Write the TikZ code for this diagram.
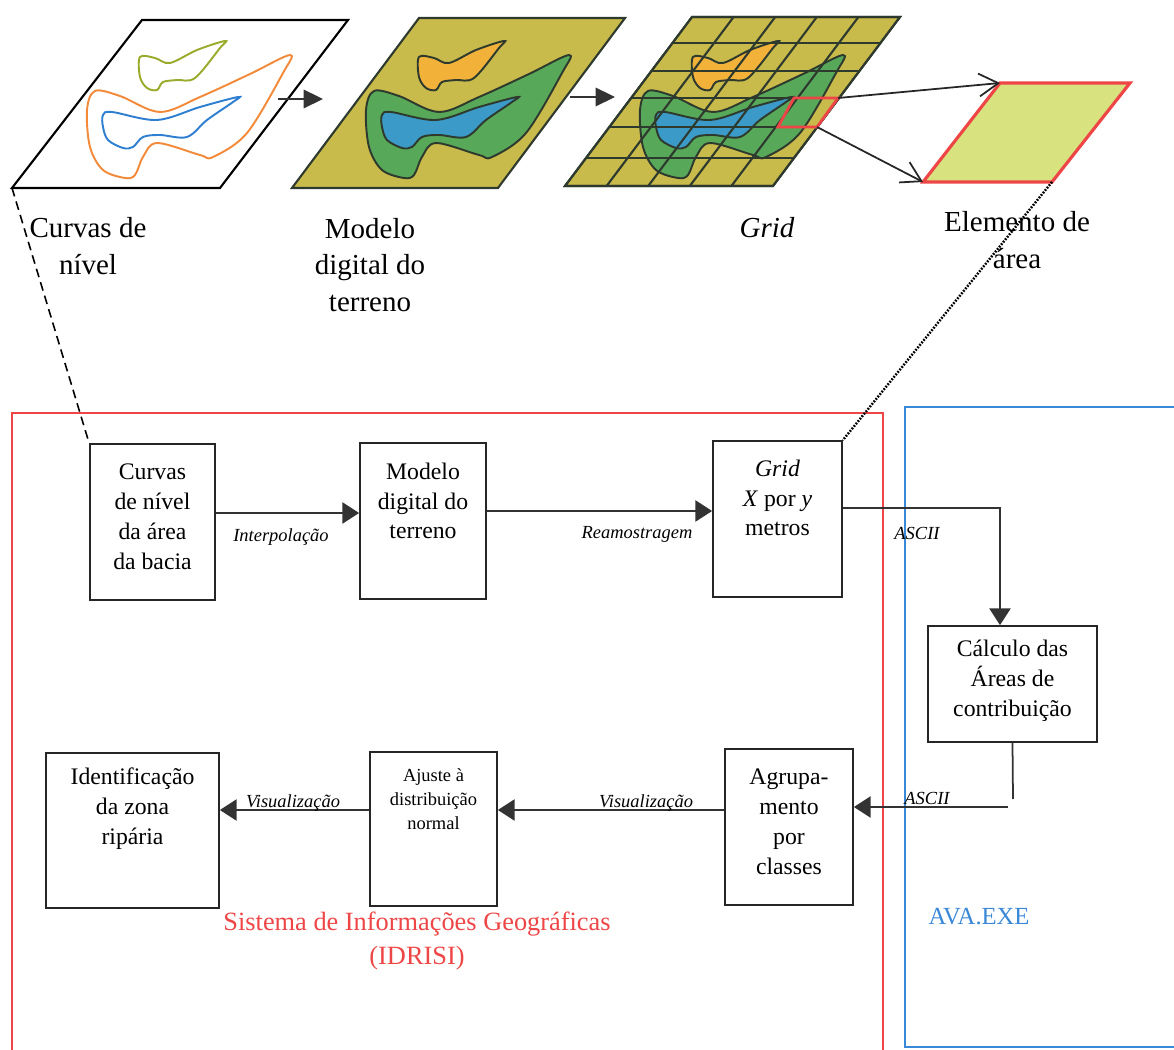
\documentclass[tikz,border=0pt]{standalone}
\usepackage{fontspec}
\setmainfont{Liberation Serif}
\usepackage{tikz}
\usetikzlibrary{arrows.meta,calc}

\definecolor{terreno}{HTML}{C9BA4C}
\definecolor{verde}{HTML}{58A85A}
\definecolor{azul}{HTML}{3C9AC8}
\definecolor{laranja}{HTML}{F2B23A}
\definecolor{contorno}{HTML}{2E3A2E}
\definecolor{curvaOliva}{HTML}{9AAA2A}
\definecolor{curvaLaranja}{HTML}{F28A3A}
\definecolor{curvaAzul}{HTML}{2F7FD0}
\definecolor{elemento}{HTML}{D8E27E}
\definecolor{vermelho}{HTML}{EE4646}
\definecolor{azulAva}{HTML}{3A88D8}

% the three level curves (drawn in the frame of the first sheet)
\newcommand{\manchaExt}{plot[smooth cycle, tension=0.55] coordinates {(95,91) (120,96) (160,112) (200,97) (250,74) (290,55) (283,73) (247,133) (213,157) (200,155) (157,143) (143,157) (135,175) (125,178) (103,170) (90,147) (87,110)}}
\newcommand{\manchaInt}{plot[smooth cycle, tension=0.55] coordinates {(103,115) (112,112) (157,120) (200,107) (238,97) (233,102) (207,120) (187,137) (160,135) (143,137) (133,147) (123,148) (108,140) (103,127)}}
\newcommand{\manchaTopo}{plot[smooth cycle, tension=0.55] coordinates {(140,57) (155,58) (170,63) (197,50) (225,41) (220,48) (195,78) (177,80) (163,82) (157,90) (147,88) (140,77)}}

\tikzset{
    caixa/.style={draw=black!85, line width=1pt},
    texto/.style={font=\fontsize{13.5}{17}\selectfont, align=center, inner sep=0pt},
    rotulo/.style={font=\fontsize{16.5}{21}\selectfont, align=center, inner sep=0pt},
    acao/.style={font=\fontsize{10.5}{12}\selectfont\itshape, inner sep=0pt},
    seta/.style={draw=black!80, line width=1pt, -{Triangle[length=9.5pt,width=12pt]}},
    setaTopo/.style={draw=black!80, line width=1pt, -{Triangle[length=11pt,width=10.5pt]}},
    setaAberta/.style={draw=black!85, line width=1pt, -{Straight Barb[length=11pt,width=13pt]}},
    folha/.style={fill=terreno, draw=contorno, line width=1.2pt},
    mancha/.style={draw=contorno, line width=1.1pt},
}

\begin{document}
\begin{tikzpicture}[x=0.02cm,y=-0.02cm]
    \useasboundingbox (0,0) rectangle (1174,1050);
    \clip (0,0) rectangle (1174,1050);

    % sheets: a b c d = bottom left, bottom right, top right, top left
    \coordinate (P1a) at (12,188);
    \coordinate (P1b) at (220,188);
    \coordinate (P1c) at (348,20);
    \coordinate (P1d) at (142,20);

    \coordinate (P2a) at (292,188);
    \coordinate (P2b) at (498,188);
    \coordinate (P2c) at (625,18);
    \coordinate (P2d) at (419,18);

    \coordinate (P3a) at (565,186);
    \coordinate (P3b) at (773,186);
    \coordinate (P3c) at (900,17);
    \coordinate (P3d) at (692,17);

    \coordinate (P4a) at (923,182);
    \coordinate (P4b) at (1052,182);
    \coordinate (P4c) at (1130,83);
    \coordinate (P4d) at (1000,83);

    \coordinate (C1) at (778,127);
    \coordinate (C2) at (817,127);
    \coordinate (C3) at (838,98);
    \coordinate (C4) at (794,98);

    \coordinate (S1) at (278,99);
    \coordinate (S2) at (323,99);
    \coordinate (S3) at (570,97);
    \coordinate (S4) at (615,97);

    % curvas de nivel
    \draw[line width=1.2pt] (P1a) -- (P1b) -- (P1c) -- (P1d) -- cycle;
    \draw[curvaLaranja, line width=1.1pt] \manchaExt;
    \draw[curvaAzul, line width=1.1pt] \manchaInt;
    \draw[curvaOliva, line width=1.1pt] \manchaTopo;

    % modelo digital
    \draw[folha] (P2a) -- (P2b) -- (P2c) -- (P2d) -- cycle;
    \begin{scope}[shift={(279,0)}]
        \filldraw[mancha, fill=verde] \manchaExt;
        \filldraw[mancha, fill=azul] \manchaInt;
        \filldraw[mancha, fill=laranja] \manchaTopo;
    \end{scope}

    % grid
    \draw[folha] (P3a) -- (P3b) -- (P3c) -- (P3d) -- cycle;
    \begin{scope}[shift={(553,0)}]
        \filldraw[mancha, fill=verde] \manchaExt;
        \filldraw[mancha, fill=azul] \manchaInt;
        \filldraw[mancha, fill=laranja] \manchaTopo;
    \end{scope}
    \foreach \y in {43,71,98,127,158}
        \draw[contorno, line width=1.2pt] ($(P3a)!{(186-\y)/169}!(P3d)$) -- ($(P3b)!{(186-\y)/169}!(P3c)$);
    \foreach \i in {1,...,4}
        \draw[contorno, line width=1.2pt] ($(P3a)!{\i/5}!(P3b)$) -- ($(P3d)!{\i/5}!(P3c)$);
    \draw[folha, fill=none] (P3a) -- (P3b) -- (P3c) -- (P3d) -- cycle;
    \draw[vermelho, line width=1.6pt] (C1) -- (C2) -- (C3) -- (C4) -- cycle;

    % elemento de area
    \draw[fill=elemento, draw=vermelho, line width=1.8pt] (P4a) -- (P4b) -- (P4c) -- (P4d) -- cycle;

    \draw[setaTopo] (S1) -- (S2);
    \draw[setaTopo] (S3) -- (S4);
    \draw[setaAberta] (C3) -- (P4d);
    \draw[setaAberta] (C2) -- (P4a);

    % frames
    \draw[vermelho, line width=1.4pt] (12,413) rectangle (883,1070);
    \draw[azulAva, line width=1.4pt] (905,407) rectangle (1190,1047);

    % boxes
    \node[caixa, minimum width=2.5cm, minimum height=3.12cm] (curvas) at (152.5,522) {};
    \node[caixa, minimum width=2.52cm, minimum height=3.12cm] (modelo) at (423,521) {};
    \node[caixa, minimum width=2.58cm, minimum height=3.12cm] (grid) at (777.5,519) {};
    \node[caixa, minimum width=3.38cm, minimum height=2.32cm] (calculo) at (1012.5,684) {};
    \node[caixa, minimum width=2.56cm, minimum height=3.12cm] (agrupamento) at (789,827) {};
    \node[caixa, minimum width=2.54cm, minimum height=3.08cm] (ajuste) at (433.5,829) {};
    \node[caixa, minimum width=3.46cm, minimum height=3.1cm] (identificacao) at (132.5,830.5) {};

    \coordinate (L1) at (0,513);
    \coordinate (L2) at (0,511);
    \coordinate (A1) at (1000,508);
    \coordinate (A2) at (1013,799);
    \coordinate (A3) at (1008,807);
    \coordinate (L3) at (0,810);

    \draw[seta] (curvas.east |- L1) -- (modelo.west |- L1);
    \draw[seta] (modelo.east |- L2) -- (grid.west |- L2);
    \draw[seta] (grid.east |- A1) -- (A1) -- (A1 |- calculo.north);
    \draw[draw=black!80, line width=1pt] (calculo.south) -- (A2);
    \draw[seta] (A3) -- (agrupamento.east |- A3);
    \draw[seta] (agrupamento.west |- L3) -- (ajuste.east |- L3);
    \draw[seta] (ajuste.west |- L3) -- (identificacao.east |- L3);

    \draw[dashed, dash pattern=on 5pt off 3pt, line width=0.9pt] (P1a) -- (curvas.north west);
    \draw[dash pattern=on 1pt off 0.8pt, line width=1.4pt] (P4b) -- (grid.north east);

%labels
    \node[rotulo] (lbCurvas) at (88,246) {Curvas de\\nível};
    \node[rotulo] (lbModelo) at (370,265) {Modelo\\digital do\\terreno};
    \node[rotulo, font=\fontsize{16.5}{21}\selectfont\itshape] (lbGrid) at (767,228) {Grid};
    \node[rotulo] (lbElemento) at (1017,240) {Elemento de\\área};

    \node[texto] (txCurvas) at (152.5,517) {Curvas\\de nível\\da área\\da bacia};
    \node[texto] (txModelo) at (423,501) {Modelo\\digital do\\terreno};
    \node[texto] (txGrid) at (777.5,498) {\textit{Grid}\\\textit{X} por \textit{y}\\metros};
    \node[texto] (txCalculo) at (1012.5,681) {Cálculo das\\Áreas de\\contribuição};
    \node[texto] (txAgrupamento) at (789,822) {Agrupa-\\mento\\por\\classes};
    \node[texto, font=\fontsize{10.5}{13.6}\selectfont] (txAjuste) at (433.5,799) {Ajuste à\\distribuição\\normal};
    \node[texto] (txIdentificacao) at (132.5,809) {Identificação\\da zona\\ripária};

    \node[acao] (acInterp) at (281,537) {Interpolação};
    \node[acao] (acReamost) at (637,534) {Reamostragem};
    \node[acao] (acAscii1) at (917,533) {ASCII};
    \node[acao, anchor=base] (acAscii2) at (927,805) {ASCII};
    \node[acao, anchor=base] (acVis1) at (646,807) {Visualização};
    \node[acao, anchor=base] (acVis2) at (293,807) {Visualização};

    \node[font=\fontsize{15}{19}\selectfont, text=vermelho, align=center] (sig) at (417,941) {Sistema de Informações Geográficas\\(IDRISI)};
    \node[font=\fontsize{14}{17}\selectfont, text=azulAva] (ava) at (979,917) {AVA.EXE};

\end{tikzpicture}
\end{document}
